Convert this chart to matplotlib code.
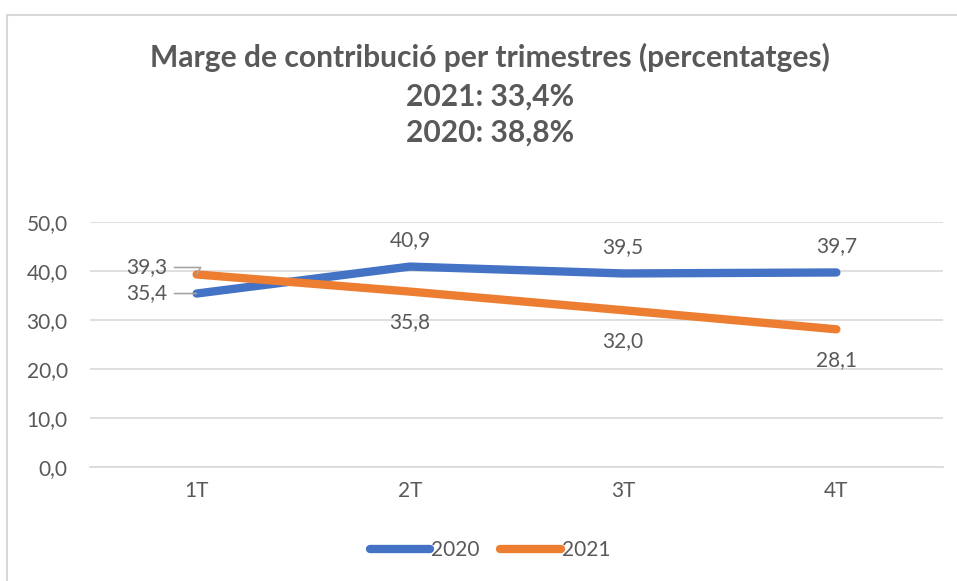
import matplotlib.pyplot as plt
from matplotlib.patches import Rectangle

quarters = ["1T", "2T", "3T", "4T"]
vals_2020 = [35.4, 40.9, 39.5, 39.7]
vals_2021 = [39.3, 35.8, 32.0, 28.1]
yticks = [0, 10, 20, 30, 40, 50]

blue = "#4472C4"
orange = "#ED7D31"
grey = "#595959"
fs = 15

plt.rcParams["font.family"] = ["Lato", "DejaVu Sans"]

fig = plt.figure(figsize=(9.57, 5.81), dpi=100)
ax = fig.add_axes([90 / 957, 1 - 467 / 581, 853 / 957, 245 / 581])

# chart border (left and top visible)
fig.patches.append(Rectangle((7.5 / 957, -0.1), 1.2, 1 - 14.5 / 581 + 0.1,
                             transform=fig.transFigure, fill=False,
                             edgecolor="#D9D9D9", lw=1.5))

x = list(range(len(quarters)))
ax.plot(x, vals_2020, color=blue, lw=6, solid_capstyle="round", label="2020", zorder=3)
ax.plot(x, vals_2021, color=orange, lw=6, solid_capstyle="round", label="2021", zorder=3)

ax.set_xlim(-0.5, 3.5)
ax.set_ylim(0, 50)
ax.set_yticks(yticks)
ax.set_yticklabels([f"{v:.1f}".replace(".", ",") for v in yticks])
ax.set_xticks(x)
ax.set_xticklabels(quarters)
ax.tick_params(axis="both", length=0, labelsize=fs, colors=grey, pad=10)
ax.tick_params(axis="y", pad=16)
ax.yaxis.grid(True, color="#D9D9D9", lw=1.2)
for s in ["top", "right", "left"]:
    ax.spines[s].set_visible(False)
ax.spines["bottom"].set_color("#D9D9D9")
ax.spines["bottom"].set_linewidth(1.2)

def fmt(v):
    return f"{v:.1f}".replace(".", ",")

# data labels
for i in range(1, 4):
    ax.annotate(fmt(vals_2020[i]), (i, vals_2020[i]), xytext=(0, 19),
                textcoords="offset points", ha="center", va="center",
                fontsize=fs, color=grey)
    ax.annotate(fmt(vals_2021[i]), (i, vals_2021[i]), xytext=(0, -22),
                textcoords="offset points", ha="center", va="center",
                fontsize=fs, color=grey)

leader = dict(arrowstyle="-", color="#A6A6A6", lw=1.2, shrinkA=3, shrinkB=0,
              connectionstyle="angle,angleA=0,angleB=60,rad=0")
ax.annotate(fmt(vals_2021[0]), (0, vals_2021[0]), xytext=(-21, 5),
            textcoords="offset points", ha="right", va="center",
            fontsize=fs, color=grey, arrowprops=leader)
ax.annotate(fmt(vals_2020[0]), (0, vals_2020[0]), xytext=(-21, 0),
            textcoords="offset points", ha="right", va="center",
            fontsize=fs, color=grey,
            arrowprops=dict(arrowstyle="-", color="#A6A6A6", lw=1.2, shrinkA=3, shrinkB=0))

fig.text(0.512, 1 - 57 / 581, "Marge de contribució per trimestres (percentatges)",
         ha="center", va="center", fontsize=21.6, fontweight="bold", color=grey)
fig.text(0.512, 1 - 97 / 581, "2021: 33,4%", ha="center", va="center",
         fontsize=21.6, fontweight="bold", color=grey)
fig.text(0.512, 1 - 133 / 581, "2020: 38,8%", ha="center", va="center",
         fontsize=21.6, fontweight="bold", color=grey)

fig.legend(loc="center", bbox_to_anchor=(0.512, 1 - 550 / 581), ncol=2, frameon=False,
           fontsize=fs, labelcolor=grey, handlelength=2.9, handletextpad=0.05,
           columnspacing=1.0)

fig.savefig("out.png", dpi=100, facecolor="white")
